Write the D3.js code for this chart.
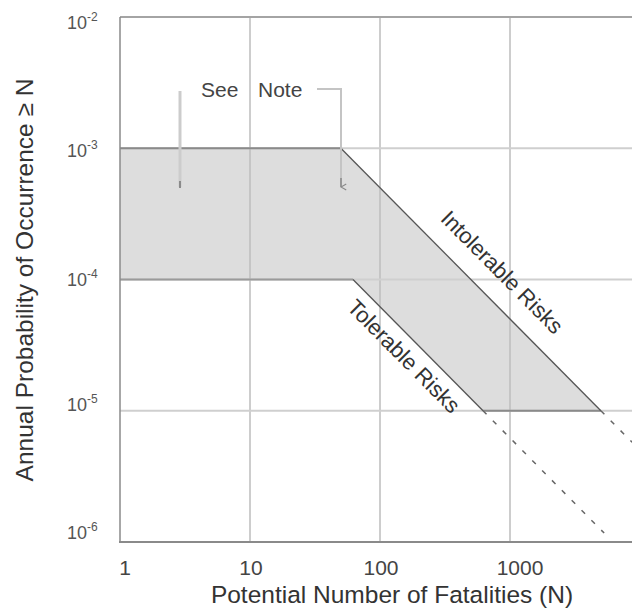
<!DOCTYPE html>
<html><head><meta charset="utf-8">
<script src="https://cdn.jsdelivr.net/npm/d3@7"></script>
<style>body{margin:0;background:#fff;}svg{display:block;font-family:"Liberation Sans",Arial,sans-serif;}</style>
</head><body>
<svg id="c" width="632" height="610"></svg>
<script>
// ---- data ----
const xTicks = [1, 10, 100, 1000];
const xTickLabels = ["1", "10", "100", "1000"];
const yTicks = [1e-2, 1e-3, 1e-4, 1e-5, 1e-6];
const yTickExps = ["-2", "-3", "-4", "-5", "-6"];
const bandPolygon = [[1,1e-3],[50,1e-3],[5000,1e-5],[620,1e-5],[62,1e-4],[1,1e-4]];
const intolerableLine = [[50,1e-3],[5000,1e-5]];
const intolerableDash = [[5000,1e-5],[8700,5.75e-6]];
const tolerableLine = [[62,1e-4],[620,1e-5]];
const tolerableDash = [[620,1e-5],[5300,1.17e-6]];
const upperFlat = [[1,1e-3],[50,1e-3]];
const lowerFlat = [[1,1e-4],[62,1e-4]];
const bottomFlat = [[620,1e-5],[5000,1e-5]];
const labelIntolerable = {text:"Intolerable Risks", at:[870,1.14e-4]};
const labelTolerable = {text:"Tolerable Risks", at:[153,2.61e-5]};
const noteWords = ["See", "Note"];
const xTitle = "Potential Number of Fatalities (N)";
const yTitle = "Annual Probability of Occurrence \u2265 N";

// ---- layout ----
const svg = d3.select("#c");
const x = d3.scaleLog().domain([1,1000]).range([120,510]);
const y = d3.scaleLog().domain([1e-2,1e-6]).range([17,542]);
const xR = 632;
const line = d3.line().x(d=>x(d[0])).y(d=>y(d[1]));
const xLabelNudge = [5, 1, 1, 10];      // horizontal nudges of x tick labels (px)
const yLabelNudge = [12, 9, 6, 0, -3];   // baseline nudges of y tick labels (px)

const defs = svg.append("defs");
defs.append("clipPath").attr("id","clip")
  .append("rect").attr("x",120).attr("y",17).attr("width",xR-120).attr("height",525);

// band
svg.append("path").attr("d", line(bandPolygon)+"Z").attr("fill","#dddddd");

// grid
svg.selectAll("line.vg").data(xTicks.slice(1)).join("line")
  .attr("x1",d=>x(d)).attr("x2",d=>x(d)).attr("y1",17).attr("y2",542)
  .attr("stroke","#bdbdbd").attr("stroke-width",1.5);
svg.selectAll("line.hg").data(yTicks.slice(1,4)).join("line")
  .attr("x1",120).attr("x2",xR).attr("y1",d=>y(d)).attr("y2",d=>y(d))
  .attr("stroke","#cfcfcf").attr("stroke-width",2);

// top border
svg.append("line").attr("x1",120).attr("x2",xR).attr("y1",y(1e-2)).attr("y2",y(1e-2))
  .attr("stroke","#a4a4a4").attr("stroke-width",2);

// boundary lines
const g = svg.append("g").attr("clip-path","url(#clip)");
g.append("path").attr("d",line(upperFlat)).attr("stroke","#8a8a8a").attr("stroke-width",2).attr("fill","none");
g.append("path").attr("d",line(lowerFlat)).attr("stroke","#9a9a9a").attr("stroke-width",2).attr("fill","none");
g.append("path").attr("d",line(bottomFlat)).attr("stroke","#8a8a8a").attr("stroke-width",2).attr("fill","none");
g.append("path").attr("d",line(intolerableLine)).attr("stroke","#555").attr("stroke-width",1.3).attr("fill","none");
g.append("path").attr("d",line(tolerableLine)).attr("stroke","#555").attr("stroke-width",1.3).attr("fill","none");
g.append("path").attr("d",line(intolerableDash)).attr("stroke","#666").attr("stroke-width",1.5).attr("stroke-dasharray","5,9").attr("fill","none");
g.append("path").attr("d",line(tolerableDash)).attr("stroke","#666").attr("stroke-width",1.5).attr("stroke-dasharray","5,9").attr("fill","none");

// axes lines
svg.append("line").attr("x1",120).attr("x2",120).attr("y1",17).attr("y2",543).attr("stroke","#8a8a8a").attr("stroke-width",1.5);
svg.append("line").attr("x1",119).attr("x2",xR).attr("y1",542).attr("y2",542).attr("stroke","#8a8a8a").attr("stroke-width",2);

// tick labels
svg.selectAll("text.xt").data(xTicks).join("text")
  .attr("x",(d,i)=>x(d)+xLabelNudge[i]).attr("y",575).attr("text-anchor","middle")
  .attr("font-size",21).attr("fill","#444").text((d,i)=>xTickLabels[i]);
const yt = svg.selectAll("text.yt").data(yTicks).join("text")
  .attr("x",67).attr("y",(d,i)=>y(d)+yLabelNudge[i]).attr("text-anchor","start")
  .attr("font-size",18).attr("fill","#555");
yt.append("tspan").text("10");
yt.append("tspan").attr("font-size",12).attr("dy",-8).text((d,i)=>yTickExps[i]);

// titles
svg.append("text").attr("x",392).attr("y",603).attr("text-anchor","middle")
  .attr("font-size",24.5).attr("fill","#333").text(xTitle);
svg.append("text").attr("transform","translate(33,280) rotate(-90)").attr("text-anchor","middle")
  .attr("font-size",24.5).attr("fill","#333").text(yTitle);

// line labels
const ang = Math.atan2(y(1e-5)-y(1e-4), x(10)-x(1))*180/Math.PI;
[labelIntolerable, labelTolerable].forEach(l=>{
  svg.append("text").attr("transform",`translate(${x(l.at[0])},${y(l.at[1])}) rotate(${ang})`)
    .attr("text-anchor","middle").attr("dy","0.35em").attr("font-size",22).attr("fill","#333").text(l.text);
});

// note with arrows
defs.append("marker").attr("id","ah").attr("viewBox","0 0 10 10").attr("refX",5).attr("refY",9)
  .attr("markerWidth",5).attr("markerHeight",5).attr("orient","auto")
  .append("path").attr("d","M1,2 L5,9 L9,2").attr("fill","none").attr("stroke","#888").attr("stroke-width",1.5);
svg.append("text").attr("x",201).attr("y",97).attr("font-size",21).attr("fill","#444").text(noteWords[0]);
svg.append("text").attr("x",258).attr("y",97).attr("font-size",21).attr("fill","#444").text(noteWords[1]);
svg.append("path").attr("d","M180,91 V187").attr("stroke","#cccccc").attr("stroke-width",3).attr("fill","none");
svg.append("path").attr("d","M180,181 V188").attr("stroke","#8a8a8a").attr("stroke-width",2).attr("fill","none");
svg.append("path").attr("d","M317,89 H341 V186").attr("stroke","#c4c4c4").attr("stroke-width",2).attr("fill","none");
svg.append("path").attr("d","M341,178 V187").attr("stroke","#888").attr("stroke-width",1.5).attr("fill","none").attr("marker-end","url(#ah)");
</script>
</body></html>
